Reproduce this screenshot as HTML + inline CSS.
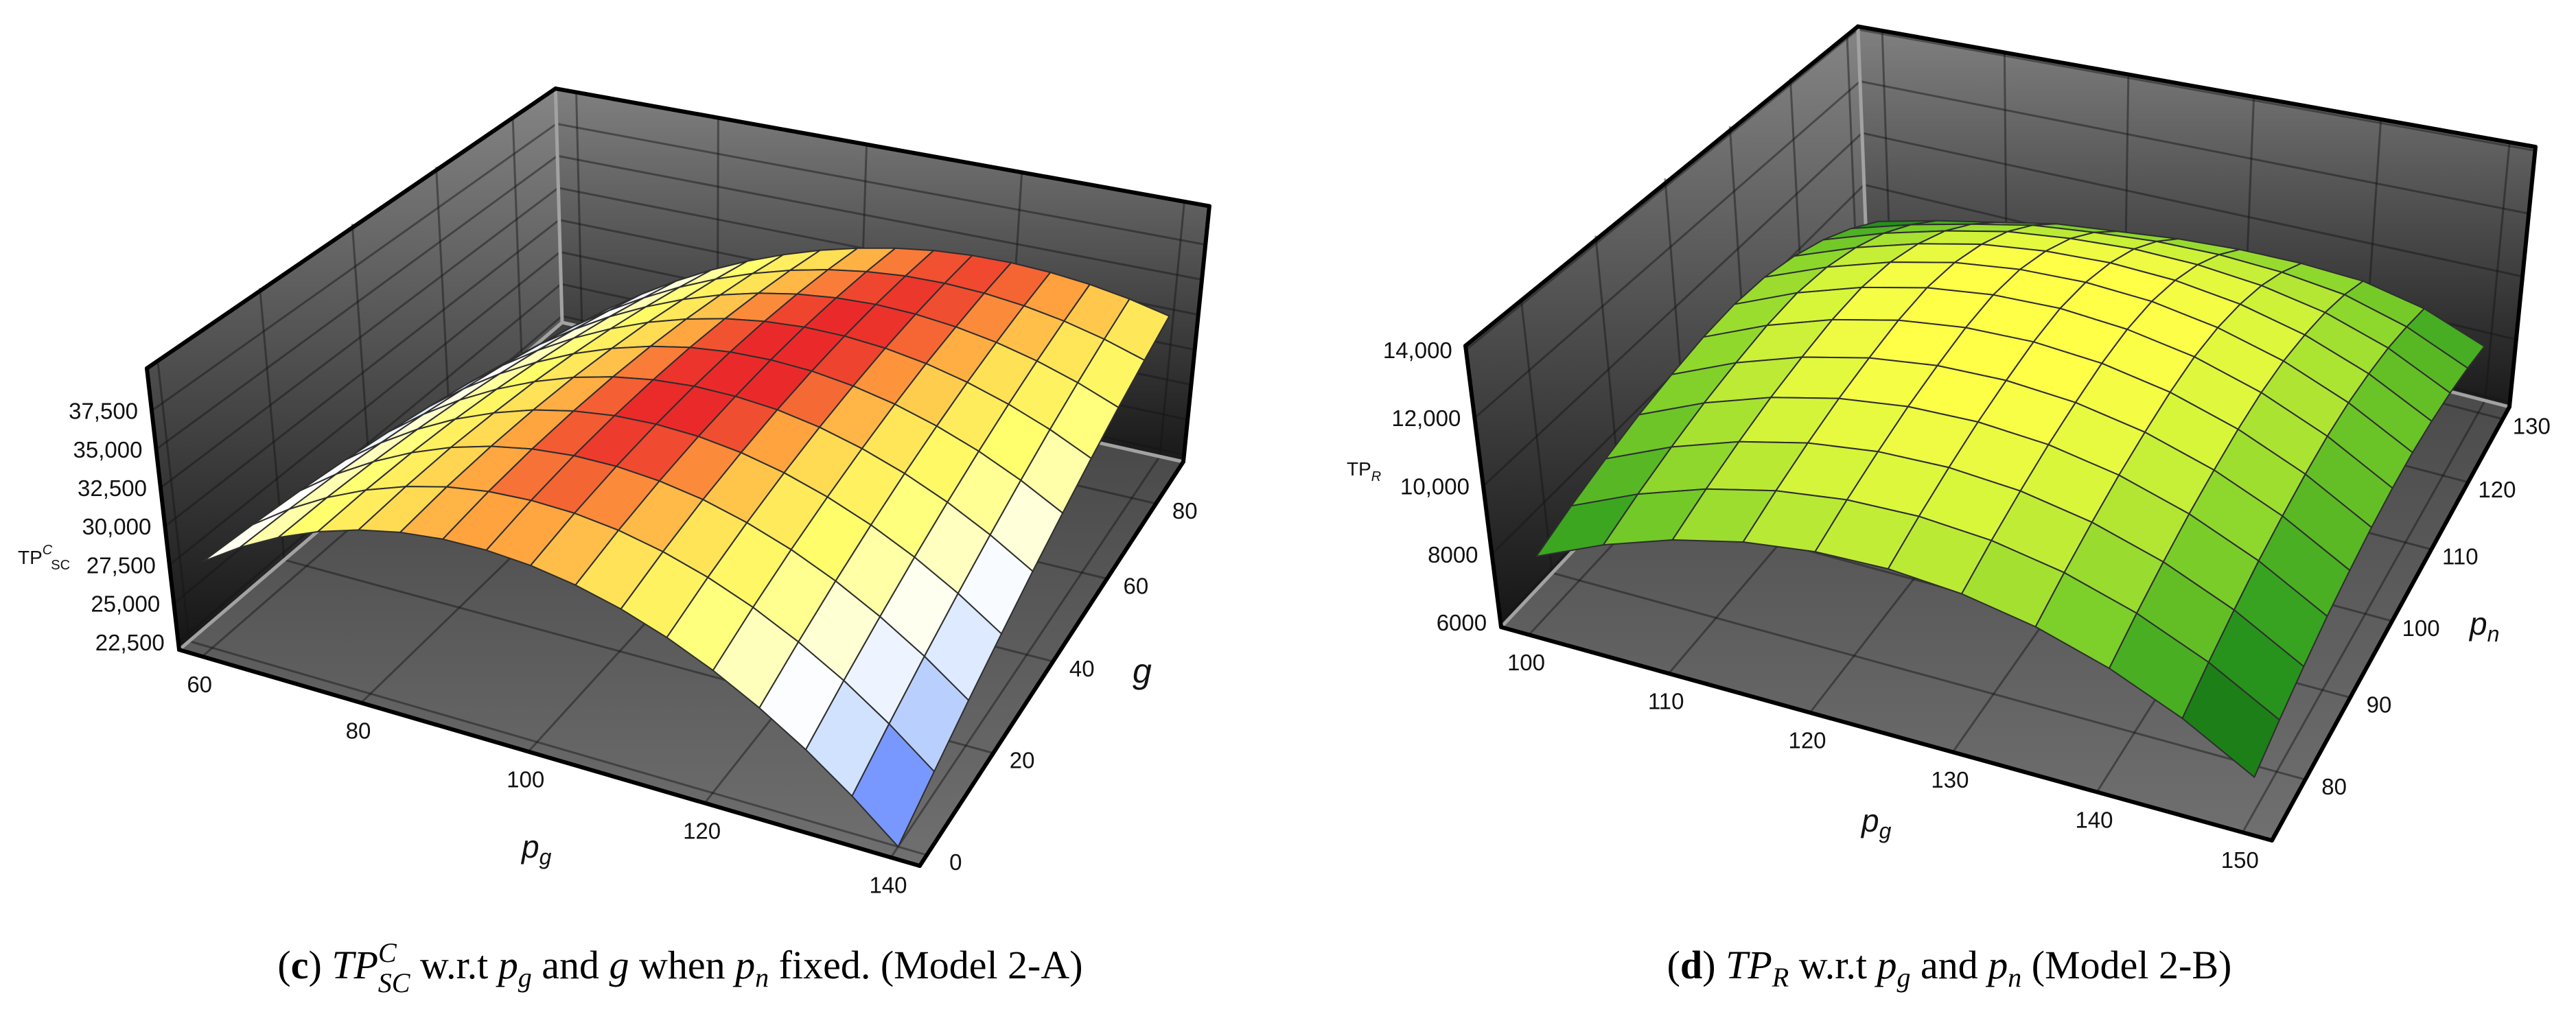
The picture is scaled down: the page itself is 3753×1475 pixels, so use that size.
<!DOCTYPE html>
<html><head><meta charset="utf-8"><title>Surface plots</title>
<style>
html,body{margin:0;padding:0;background:#fff;}
svg{display:block;font-family:"Liberation Sans",sans-serif;}
</style></head>
<body>
<svg id="chart" width="3753" height="1475" viewBox="0 0 3753 1475">
<defs>
<linearGradient id="wallL1" gradientUnits="userSpaceOnUse" x1="0" y1="130" x2="0" y2="947"><stop offset="0" stop-color="#858585"/><stop offset="1" stop-color="#151515"/></linearGradient>
<linearGradient id="wallB1" gradientUnits="userSpaceOnUse" x1="0" y1="128" x2="0" y2="650"><stop offset="0" stop-color="#808080"/><stop offset="1" stop-color="#1c1c1c"/></linearGradient>
<linearGradient id="floor1" gradientUnits="userSpaceOnUse" x1="0" y1="470" x2="0" y2="1262"><stop offset="0" stop-color="#3e3e3e"/><stop offset="1" stop-color="#707070"/></linearGradient>
<linearGradient id="wallL2" gradientUnits="userSpaceOnUse" x1="0" y1="40" x2="0" y2="914"><stop offset="0" stop-color="#858585"/><stop offset="1" stop-color="#151515"/></linearGradient>
<linearGradient id="wallB2" gradientUnits="userSpaceOnUse" x1="0" y1="40" x2="0" y2="580"><stop offset="0" stop-color="#808080"/><stop offset="1" stop-color="#1c1c1c"/></linearGradient>
<linearGradient id="floor2" gradientUnits="userSpaceOnUse" x1="0" y1="350" x2="0" y2="1225"><stop offset="0" stop-color="#3e3e3e"/><stop offset="1" stop-color="#707070"/></linearGradient>
</defs>
<g id="panel-c"></g>
<g id="panel-d"></g>

<text x="26" y="822" font-size="28" fill="#111">TP<tspan font-size="20" font-style="italic" dy="-14">C</tspan><tspan font-size="20" dy="22" dx="-2">SC</tspan></text>
<text x="760" y="1250" font-size="46" font-style="italic" fill="#111">p<tspan font-size="32" dy="10">g</tspan></text>
<text x="1650" y="995" font-size="50" font-style="italic" fill="#111">g</text>

<text x="1962" y="693" font-size="28" fill="#111">TP<tspan font-size="20" font-style="italic" dy="8">R</tspan></text>
<text x="2712" y="1212" font-size="46" font-style="italic" fill="#111">p<tspan font-size="32" dy="10">g</tspan></text>
<text x="3598" y="925" font-size="46" font-style="italic" fill="#111">p<tspan font-size="32" dy="10">n</tspan></text>

<text x="991" y="1426" font-size="58" text-anchor="middle" font-family="Liberation Serif, serif" fill="#000">(<tspan font-weight="bold">c</tspan>) <tspan font-style="italic">TP</tspan><tspan font-style="italic" font-size="40" dy="-24">C</tspan><tspan font-style="italic" font-size="40" dx="-27" dy="44">SC</tspan><tspan dy="-20"> w.r.t </tspan><tspan font-style="italic">p</tspan><tspan font-style="italic" font-size="40" dy="12">g</tspan><tspan dy="-12"> and </tspan><tspan font-style="italic">g</tspan> when <tspan font-style="italic">p</tspan><tspan font-style="italic" font-size="40" dy="12">n</tspan><tspan dy="-12"> fixed. (Model 2-A)</tspan></text>
<text x="2840" y="1426" font-size="58" text-anchor="middle" font-family="Liberation Serif, serif" fill="#000">(<tspan font-weight="bold">d</tspan>) <tspan font-style="italic">TP</tspan><tspan font-style="italic" font-size="40" dy="12">R</tspan><tspan dy="-12"> w.r.t </tspan><tspan font-style="italic">p</tspan><tspan font-style="italic" font-size="40" dy="12">g</tspan><tspan dy="-12"> and </tspan><tspan font-style="italic">p</tspan><tspan font-style="italic" font-size="40" dy="12">n</tspan><tspan dy="-12"> (Model 2-B)</tspan></text>
</svg>
<script>
// ---------- Data: chart (c) ----------
const leftPgValues = [60,65,70,75,80,85,90,95,100,105,110,115,120,125,130,135,140];
const leftGValues = [0,10,20,30,40,50,60,70,80,90];
// TP^C_SC in thousands, rows = g, columns = pg
const leftZThousands = [
[27.61,29.23,30.58,31.67,32.50,33.07,33.37,33.41,33.19,32.71,31.97,30.96,29.69,28.15,26.36,24.30,21.98],
[27.36,29.06,30.50,31.68,32.60,33.27,33.67,33.81,33.70,33.33,32.70,31.81,30.66,29.24,27.58,25.65,23.46],
[27.04,28.81,30.30,31.56,32.57,33.31,33.81,34.05,34.04,33.78,33.28,32.50,31.49,30.21,28.68,26.91,24.88],
[26.63,28.44,30.00,31.32,32.38,33.22,33.80,34.14,34.23,34.09,33.70,33.06,32.17,31.05,29.68,28.06,26.20],
[26.14,27.99,29.59,30.96,32.10,33.01,33.67,34.10,34.30,34.26,34.01,33.50,32.75,31.78,30.57,29.12,27.45],
[25.57,27.45,29.09,30.50,31.70,32.67,33.42,33.95,34.25,34.33,34.19,33.81,33.22,32.40,31.37,30.10,28.61],
[24.93,26.82,28.49,29.95,31.20,32.24,33.06,33.68,34.08,34.28,34.26,34.03,33.59,32.93,32.07,31.00,29.70],
[24.20,26.10,27.79,29.29,30.58,31.68,32.58,33.28,33.79,34.10,34.22,34.12,33.83,33.35,32.67,31.79,30.71],
[23.39,25.29,27.00,28.52,29.87,31.03,32.00,32.79,33.40,33.82,34.07,34.12,33.99,33.67,33.18,32.50,31.63],
[22.51,24.41,26.12,27.67,29.06,30.27,31.31,32.19,32.89,33.44,33.82,34.01,34.04,33.90,33.60,33.13,32.49]
];
const leftZTicks = [22500,25000,27500,30000,32500,35000,37500];
const leftPgTicks = [60,80,100,120,140];
const leftGTicks = [0,20,40,60,80];

// ---------- Data: chart (d) ----------
const rightPgValues = [100,105,110,115,120,125,130,135,140,145,150];
const rightPnValues = [75,80,85,90,95,100,105,110,115,120,125,130];
// TP_R in thousands, rows = pn, columns = pg
const rightZThousands = [
[7.70,8.57,9.23,9.68,9.91,9.93,9.74,9.34,8.72,7.89,6.85],
[8.09,8.96,9.62,10.07,10.30,10.32,10.13,9.73,9.11,8.28,7.24],
[8.43,9.30,9.96,10.41,10.64,10.66,10.47,10.07,9.45,8.62,7.58],
[8.73,9.60,10.26,10.71,10.94,10.96,10.77,10.37,9.75,8.92,7.88],
[8.96,9.83,10.49,10.94,11.17,11.19,11.00,10.60,9.98,9.15,8.11],
[9.15,10.02,10.68,11.13,11.36,11.38,11.19,10.79,10.17,9.34,8.30],
[9.23,10.10,10.75,11.20,11.43,11.46,11.27,10.89,10.28,9.46,8.43],
[9.16,9.99,10.63,11.08,11.31,11.35,11.20,10.84,10.28,9.49,8.49],
[8.91,9.70,10.31,10.76,10.99,11.06,10.95,10.65,10.15,9.42,8.46],
[8.51,9.25,9.82,10.27,10.50,10.61,10.55,10.33,9.93,9.28,8.37],
[7.94,8.60,9.12,9.57,9.80,9.96,9.98,9.86,9.59,9.03,8.20],
[7.21,7.78,8.24,8.69,8.92,9.14,9.25,9.25,9.13,8.70,7.96]
];
const rightZTicks = [6000,8000,10000,12000,14000];
const rightPgTicks = [100,110,120,130,140,150];
const rightPnTicks = [80,90,100,110,120,130];

// ---------- geometry ----------
const SVGNS = "http://www.w3.org/2000/svg";
function mk(tag, attrs, parent){
  const e = document.createElementNS(SVGNS, tag);
  for (const k in attrs) e.setAttribute(k, attrs[k]);
  parent.appendChild(e);
  return e;
}
function solve(M, b){
  const n = b.length;
  for (let i=0;i<n;i++){
    let p=i; for (let r=i+1;r<n;r++) if (Math.abs(M[r][i])>Math.abs(M[p][i])) p=r;
    [M[i],M[p]]=[M[p],M[i]]; [b[i],b[p]]=[b[p],b[i]];
    for (let r=i+1;r<n;r++){ const f=M[r][i]/M[i][i]; for(let c=i;c<n;c++) M[r][c]-=f*M[i][c]; b[r]-=f*b[i]; }
  }
  const x=new Array(n).fill(0);
  for (let i=n-1;i>=0;i--){ let s=b[i]; for(let c=i+1;c<n;c++) s-=M[i][c]*x[c]; x[i]=s/M[i][i]; }
  return x;
}
function homography(src, dst){
  const M=[], b=[];
  for (let i=0;i<4;i++){
    const [x,y]=src[i], [X,Y]=dst[i];
    M.push([x,y,1,0,0,0,-X*x,-X*y]); b.push(X);
    M.push([0,0,0,x,y,1,-Y*x,-Y*y]); b.push(Y);
  }
  const h=solve(M,b);
  return (x,y)=>{ const w=h[6]*x+h[7]*y+1; return [(h[0]*x+h[1]*y+h[2])/w,(h[3]*x+h[4]*y+h[5])/w]; };
}
function makeProj(cfg){
  const H = homography([[0,0],[1,0],[1,1],[0,1]],[cfg.A,cfg.D,cfg.C,cfg.B]);
  const V = cfg.V, K = cfg.k;
  const f = (u,v,h)=>{
    const P = H(u,v);
    const k = K.A*(1-u)*(1-v)+K.D*u*(1-v)+K.C*u*v+K.B*(1-u)*v;
    const s = 1+(k-1)*h;
    return [V[0]+(P[0]-V[0])*s, V[1]+(P[1]-V[1])*s];
  };
  f.floor = H;
  return f;
}
function hex(h){ return [1,3,5].map(i=>parseInt(h.substr(i,2),16)); }
function lerpColor(stops, t){
  if (t<=stops[0][0]) return stops[0][1];
  for (let i=1;i<stops.length;i++){
    if (t<=stops[i][0]){
      const a=stops[i-1], b=stops[i], r=(t-a[0])/(b[0]-a[0]);
      const ca=hex(a[1]), cb=hex(b[1]);
      return "rgb("+ca.map((c,j)=>Math.round(c+(cb[j]-c)*r)).join(",")+")";
    }
  }
  return stops[stops.length-1][1];
}
function fmt(n){ return n>=10000 ? n.toLocaleString("en-US") : String(n); }
const pt = p => p[0].toFixed(1)+","+p[1].toFixed(1);

function drawPanel(g, cfg, xVals, yVals, zK, zTicks, xTicks, yTicks){
  const P = makeProj(cfg);
  const ux = x => (x-cfg.xr[0])/(cfg.xr[1]-cfg.xr[0]);
  const vy = y => (y-cfg.yr[0])/(cfg.yr[1]-cfg.yr[0]);
  const hz = z => Math.max(0,(z-cfg.zr[0])/(cfg.zr[1]-cfg.zr[0]));
  const wl = mk("polygon",{points:[P(0,0,0),P(0,0,1),P(0,1,1),P(0,1,0)].map(pt).join(" "),fill:"url(#"+cfg.ids[0]+")"},g);
  
  
  const wb = mk("polygon",{points:[P(0,1,0),P(0,1,1),P(1,1,1),P(1,1,0)].map(pt).join(" "),fill:"url(#"+cfg.ids[1]+")"},g);
  
  
  const fl = mk("polygon",{points:[P(0,0,0),P(1,0,0),P(1,1,0),P(0,1,0)].map(pt).join(" "),fill:"url(#"+cfg.ids[2]+")"},g);
  
  
  const gridStyle = {stroke:"rgba(20,20,20,0.45)","stroke-width":3,fill:"none"};
  const line = (a,b,st)=>mk("line",Object.assign({x1:a[0],y1:a[1],x2:b[0],y2:b[1]},st),g);
  for (const t of zTicks){
    const h=hz(t);
    const l1=line(P(0,0,h),P(0,1,h),gridStyle);
    
    
    const l2=line(P(0,1,h),P(1,1,h),gridStyle);
    
    
  }
  for (const t of xTicks){
    const u=ux(t);
    const l1=line(P(u,0,0),P(u,1,0),gridStyle);
    
    
    const l2=line(P(u,1,0),P(u,1,1),gridStyle);
    
    
  }
  for (const t of yTicks){
    const v=vy(t);
    const l1=line(P(0,v,0),P(1,v,0),gridStyle);
    
    
    const l2=line(P(0,v,0),P(0,v,1),gridStyle);
    
    
  }
  const rim = {stroke:"#a2a2a2","stroke-width":5};
  for (const [a,b] of [[P(0,0,0),P(0,1,0)],[P(0,1,0),P(1,1,0)],[P(0,1,0),P(0,1,1)]]){
    const r=line(a,b,rim);
    
    
  }
  const edge = {stroke:"#000","stroke-width":6,"stroke-linecap":"round"};
  for (const [a,b] of [[P(0,0,0),P(0,0,1)],[P(0,0,1),P(0,1,1)],[P(0,1,1),P(1,1,1)],[P(1,1,1),P(1,1,0)],[P(0,0,0),P(1,0,0)],[P(1,0,0),P(1,1,0)]]){
    const e=line(a,b,edge);
    
    
  }
  for (const t of zTicks){
    const p=P(0,0,hz(t));
    const tx=mk("text",{x:p[0]-20,y:p[1]+12,"font-size":33,"text-anchor":"end",fill:"#111"},g);
    tx.textContent=fmt(t);
    
    
  }
  for (const t of xTicks){
    const p=P(ux(t),0,0);
    const tx=mk("text",{x:p[0]-4,y:p[1]+52,"font-size":33,"text-anchor":"middle",fill:"#111"},g);
    tx.textContent=fmt(t);
    
    
  }
  for (const t of yTicks){
    const p=P(1,vy(t),0);
    const tx=mk("text",{x:p[0]+42,y:p[1]+22,"font-size":33,"text-anchor":"middle",fill:"#111"},g);
    tx.textContent=fmt(t);
    
    
  }
  const cells=[];
  for (let j=0;j<yVals.length-1;j++){
    for (let i=0;i<xVals.length-1;i++){
      const idx=[[i,j],[i+1,j],[i+1,j+1],[i,j+1]];
      const pts=idx.map(([a,b])=>P(ux(xVals[a]),vy(yVals[b]),hz(zK[b][a]*1000)));
      const zavg=idx.reduce((s,[a,b])=>s+zK[b][a],0)/4;
      const c=P.floor((ux(xVals[i])+ux(xVals[i+1]))/2,(vy(yVals[j])+vy(yVals[j+1]))/2);
      cells.push({pts,zavg,depth:c[1]});
    }
  }
  cells.sort((a,b)=>a.depth-b.depth);
  const sg=mk("g",{},g);
  
  
  for (const c of cells){
    const low = c.zavg*1000 < cfg.zr[0];
    const col = low ? "#8a8a8a" : lerpColor(cfg.stops,c.zavg);
    const poly=mk("polygon",{points:c.pts.map(pt).join(" "),fill:col,stroke:"#2e2e2e","stroke-width":2,"stroke-linejoin":"round"},sg);
    
    
  }
}

const cfgLeft = {A:[261,947],D:[1340,1262],C:[1724,673],B:[819,470],V:[1021,7573],
  k:{A:1.0619,D:1.068,C:1.054,B:1.048}, xr:[57,143], yr:[-2,92], zr:[22000,40250],
  ids:["wallL1","wallB1","floor1"],
  stops:[[22.5,"#3a62ff"],[25.5,"#c6dbff"],[28,"#ffffff"],[31.2,"#ffff6a"],[32.8,"#ffe055"],[33.6,"#ffa03e"],[34.2,"#ea2a2a"]]};
const cfgRight = {A:[2187,914],D:[3310,1225],C:[3656,593],B:[2719,350],V:[2989,7241],
  k:{A:1.0648,D:1.0766,C:1.057,B:1.0452}, xr:[98,152], yr:[73,132], zr:[5860,14120],
  ids:["wallL2","wallB2","floor2"],
  stops:[[6.9,"#0a5c10"],[8.1,"#2c9c1e"],[9.3,"#82d22a"],[10.4,"#d8f63a"],[11.1,"#ffff48"]]};

drawPanel(document.getElementById("panel-c"), cfgLeft, leftPgValues, leftGValues, leftZThousands, leftZTicks, leftPgTicks, leftGTicks);
drawPanel(document.getElementById("panel-d"), cfgRight, rightPgValues, rightPnValues, rightZThousands, rightZTicks, rightPgTicks, rightPnTicks);
</script>
</body></html>
